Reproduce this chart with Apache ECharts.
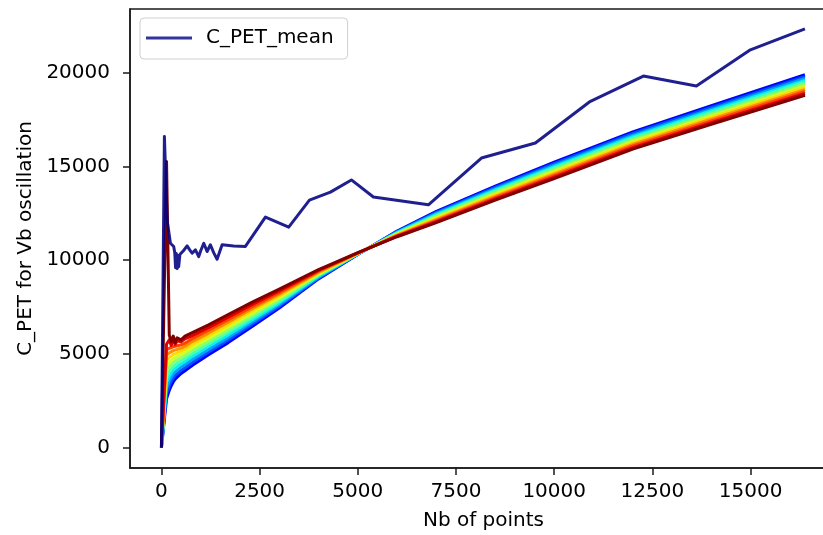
<!DOCTYPE html>
<html>
<head>
<meta charset="utf-8">
<script src="https://cdn.jsdelivr.net/npm/echarts@6/dist/echarts.min.js"></script>
<style>html,body{margin:0;padding:0;background:#fff}#c{width:823px;height:535px}</style>
</head>
<body>
<div id="c"></div>
<script>
// ---- data ----
const xTicks = [0, 2500, 5000, 7500, 10000, 12500, 15000];
const yTicks = [0, 5000, 10000, 15000, 20000];

const meanName = 'C_PET_mean';
const meanX = [0, 76, 145, 229, 313, 340, 360, 380, 400, 420, 440, 470, 500, 560, 654, 720, 781, 866, 950, 1000, 1078, 1163, 1247, 1330, 1417, 1545, 1841, 2138, 2648, 3241, 3768, 4302, 4837, 5397, 6797, 8147, 9521, 10896, 12271, 13620, 14995, 16384];
const meanY = [0, 16600, 12150, 10900, 10730, 10400, 9600, 10350, 9550, 10250, 9650, 10300, 10370, 10500, 10760, 10550, 10370, 10550, 10190, 10500, 10900, 10460, 10820, 10400, 10050, 10820, 10760, 10730, 12300, 11760, 13200, 13630, 14280, 13370, 12950, 15450, 16250, 18440, 19820, 19290, 21220, 22340];

const bandX = [0, 130, 200, 250, 300, 350, 400, 500, 600, 800, 1200, 1700, 2300, 3000, 4000, 5000, 6000, 7000, 8500, 10000, 12000, 14000, 16384];
const band0  = [0, 2600, 3050, 3300, 3500, 3650, 3750, 3950, 4100, 4400, 4950, 5600, 6450, 7450, 9000, 10300, 11550, 12600, 13950, 15230, 16840, 18240, 19890];
const band1  = [0, 2890, 3300, 3530, 3710, 3850, 3940, 4120, 4260, 4560, 5100, 5740, 6570, 7540, 9050, 10310, 11520, 12550, 13880, 15150, 16760, 18150, 19790];
const band2  = [0, 3180, 3550, 3750, 3920, 4040, 4120, 4290, 4430, 4720, 5240, 5870, 6690, 7630, 9090, 10320, 11500, 12490, 13810, 15070, 16670, 18060, 19690];
const band3  = [0, 3470, 3800, 3980, 4130, 4230, 4310, 4460, 4590, 4880, 5390, 6010, 6800, 7720, 9140, 10330, 11470, 12440, 13750, 14990, 16590, 17970, 19590];
const band4  = [0, 3760, 4050, 4200, 4340, 4430, 4500, 4630, 4750, 5040, 5530, 6150, 6920, 7810, 9180, 10340, 11440, 12380, 13680, 14910, 16510, 17880, 19490];
const band5  = [0, 4050, 4300, 4430, 4550, 4620, 4680, 4800, 4920, 5200, 5680, 6280, 7040, 7900, 9230, 10350, 11410, 12330, 13610, 14830, 16420, 17790, 19400];
const band6  = [0, 4350, 4550, 4650, 4750, 4820, 4870, 4970, 5080, 5350, 5820, 6420, 7160, 8000, 9270, 10350, 11390, 12270, 13540, 14750, 16340, 17700, 19300];
const band7  = [0, 4640, 4800, 4880, 4960, 5010, 5050, 5140, 5250, 5510, 5970, 6550, 7280, 8090, 9320, 10360, 11360, 12220, 13470, 14670, 16250, 17610, 19200];
const band8  = [0, 4930, 5050, 5100, 5170, 5210, 5240, 5310, 5410, 5670, 6110, 6690, 7400, 8180, 9360, 10370, 11330, 12160, 13400, 14590, 16170, 17520, 19100];
const band9  = [0, 5220, 5300, 5330, 5380, 5400, 5430, 5480, 5570, 5830, 6260, 6830, 7510, 8270, 9410, 10380, 11300, 12110, 13340, 14510, 16090, 17430, 19000];
const band10 = [0, 5510, 5750, 5450, 5750, 5500, 5700, 5650, 5800, 5990, 6400, 6960, 7630, 8360, 9450, 10390, 11280, 12050, 13270, 14430, 16000, 17340, 18900];
const band11 = [0, 15260, 6000, 5650, 5950, 5600, 5850, 5750, 5950, 6150, 6550, 7100, 7750, 8450, 9500, 10400, 11250, 12000, 13200, 14350, 15920, 17250, 18800];
const bandColors = ['#0000ff', '#004dff', '#009eff', '#08f0ee', '#4affad', '#8cff6b', '#ceff29', '#ffd900', '#ff8e00', '#ff4200', '#dc0000', '#800000'];

// ---- chart ----
const bands = [band0, band1, band2, band3, band4, band5, band6, band7, band8, band9, band10, band11];
const FONT = 'DejaVu Sans';
const zip = (xs, ys) => xs.map((x, i) => [x, ys[i]]);

const series = bands.map((b, i) => ({
  type: 'line', name: 'band' + i, data: zip(bandX, b), showSymbol: false, symbol: 'none',
  lineStyle: { color: bandColors[i], width: 3, join: 'round' }, itemStyle: { color: bandColors[i] },
  silent: true, z: 2
}));
series.push({
  type: 'line', name: meanName, data: zip(meanX, meanY), showSymbol: false, symbol: 'none',
  lineStyle: { color: 'rgba(0,0,128,0.88)', width: 3, join: 'round' }, itemStyle: { color: 'rgba(0,0,139,0.8)' },
  z: 3
});

const chart = echarts.init(document.getElementById('c'), null, { renderer: 'canvas' });
chart.setOption({
  animation: false,
  backgroundColor: '#fff',
  grid: { left: 130, top: 9, width: 707, height: 459, outerBoundsMode: 'none', containLabel: false,
          show: true, borderColor: '#1a1a1a', borderWidth: 1.5, backgroundColor: 'transparent' },
  legend: {
    data: [meanName], left: 140, top: 18, orient: 'horizontal',
    icon: 'path://M0,0 L46,0 L46,3 L0,3 Z', itemWidth: 46, itemHeight: 3,
    backgroundColor: '#fff', borderColor: '#d0d0d0', borderWidth: 1, borderRadius: 4,
    padding: [10, 14, 11, 6],
    textStyle: { fontFamily: FONT, fontSize: 20, color: '#000', padding: [0, 0, 0, 9] }
  },
  xAxis: {
    type: 'value', min: -800, max: 17200,
    name: 'Nb of points', nameLocation: 'middle', nameGap: 43,
    nameTextStyle: { fontFamily: FONT, fontSize: 20, color: '#000' },
    axisLine: { show: true, onZero: false, lineStyle: { color: '#1a1a1a', width: 1.5 } },
    axisTick: { show: true, inside: false, length: 7, customValues: xTicks, lineStyle: { color: '#1a1a1a', width: 1.5 } },
    axisLabel: { customValues: xTicks, margin: 14, fontFamily: FONT, fontSize: 20, color: '#000', formatter: v => String(v) },
    splitLine: { show: false }
  },
  yAxis: {
    type: 'value', min: -1090, max: 23400,
    name: 'C_PET for Vb oscillation', nameLocation: 'middle', nameGap: 93, nameRotate: 90,
    nameTextStyle: { fontFamily: FONT, fontSize: 20, color: '#000' },
    axisLine: { show: true, onZero: false, lineStyle: { color: '#1a1a1a', width: 1.5 } },
    axisTick: { show: true, inside: false, length: 7, customValues: yTicks, lineStyle: { color: '#1a1a1a', width: 1.5 } },
    axisLabel: { customValues: yTicks, margin: 20, fontFamily: FONT, fontSize: 20, color: '#000', formatter: v => String(v) },
    splitLine: { show: false }
  },
  series: series
});
</script>
</body>
</html>
